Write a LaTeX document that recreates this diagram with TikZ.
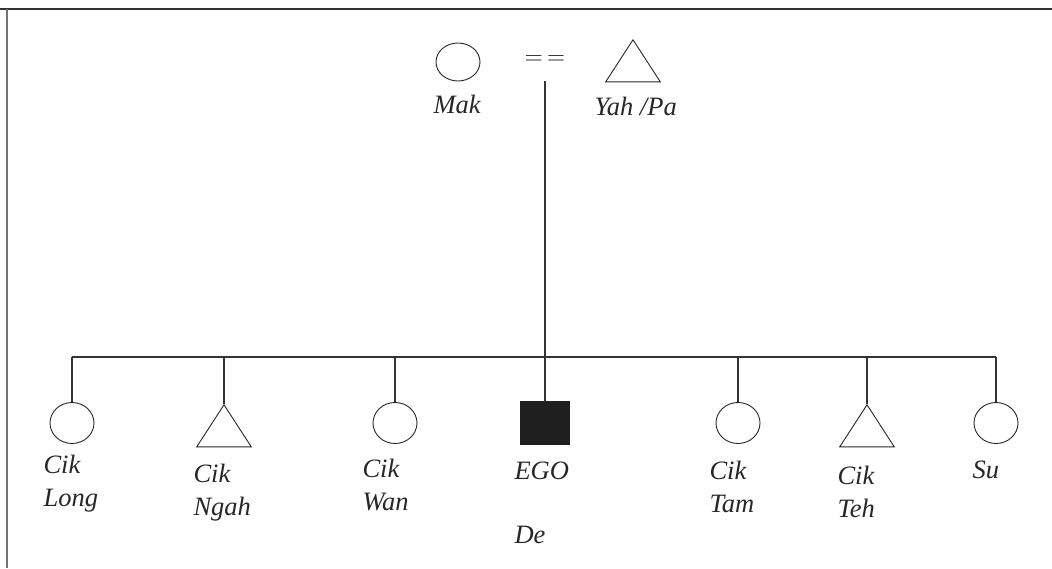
\documentclass[tikz,border=0pt]{standalone}
\usepackage{fontspec}
\setmainfont{Liberation Serif}
\usetikzlibrary{shapes.geometric}

\begin{document}
\begin{tikzpicture}[x=1pt,y=1pt,line width=1.1pt,
			female node/.style={ellipse,draw=black!85,line width=0.9pt,
				minimum width=44pt,minimum height=41pt,inner sep=0pt},
			male node/.style={isosceles triangle,isosceles triangle apex angle=66,
				shape border rotate=90,draw=black!85,line width=0.9pt,
				minimum size=42pt,inner sep=0pt},
			ego node/.style={rectangle,fill=black!88,draw=black!88,
				minimum width=48pt,minimum height=43pt,inner sep=0pt},
			name node/.style={font=\fontsize{26.5}{33}\selectfont\itshape,
				align=left,inner sep=0pt,anchor=north west,text=black!85},
			link/.style={draw=black!80,line width=1.1pt}
			]
			\useasboundingbox (0,0) rectangle (1052,-568);
			% frame
			\draw[black!80,line width=2pt] (0,-9) -- (1052,-9);
			\draw[black!55,line width=2pt] (7,-9) -- (7,-568);
			
			% parents
			\node[female node,minimum height=38pt] (Mak) at (458,-62) {};
			\node[font=\fontsize{27}{33}\selectfont,text=black!90] (M) at (545,-60) {$=$\,$=$};
			\node[male node] (Yah) at (633,-67) {};
			\coordinate (MT) at (545,-81);
			\coordinate (SIB) at (545,-357);
			
			% children
			\node[female node] (Long) at (72,-423) {};
			\node[male node] (Ngah) [right of=Long, node distance=152pt, yshift=-9pt] {};
			\node[female node] (Wan) [right of=Long, node distance=323pt] {};
			\node[ego node] (EGO) [right of=Wan, node distance=150pt] {};
			\node[female node] (Tam) [right of=EGO, node distance=193pt] {};
			\node[male node] (Teh) [right of=Tam, node distance=129pt, yshift=-9pt] {};
			\node[female node] (Su) [right of=Tam, node distance=258pt] {};
			
			% names
			\node[name node] (tMak) at ([xshift=-25pt,yshift=-13pt]Mak.south) {Mak};
			\node[name node] (tYah) at ([xshift=-39pt,yshift=-14pt]Yah.south) {Yah /Pa};
			\node[name node] (tLong) at ([xshift=-29pt,yshift=-11pt]Long.south) {Cik\\Long};
			\node[name node] (tNgah) at ([xshift=-31pt,yshift=-16pt]Ngah.south) {Cik\\Ngah};
			\node[name node] (tWan) at ([xshift=-33pt,yshift=-15pt]Wan.south) {Cik\\Wan};
			\node[name node] (tEGO) at ([xshift=-31pt,yshift=-16pt]EGO.south) {EGO\\[31pt]De};
			\node[name node] (tTam) at ([xshift=-29pt,yshift=-17pt]Tam.south) {Cik\\Tam};
			\node[name node] (tTeh) at ([xshift=-30pt,yshift=-18pt]Teh.south) {Cik\\Teh};
			\node[name node] (tSu) at ([xshift=-24pt,yshift=-16pt]Su.south) {Su};
			
			\path[link]
			(MT) edge (SIB)
			(Long |- SIB) edge (Su |- SIB)
			(Long |- SIB) edge (Long)
			(Ngah.apex |- SIB) edge (Ngah.apex)
			(Wan |- SIB) edge (Wan)
			(SIB) edge (EGO)
			(Tam |- SIB) edge (Tam)
			(Teh.apex |- SIB) edge (Teh.apex)
			(Su |- SIB) edge (Su)
			;
			
\end{tikzpicture}
\end{document}
